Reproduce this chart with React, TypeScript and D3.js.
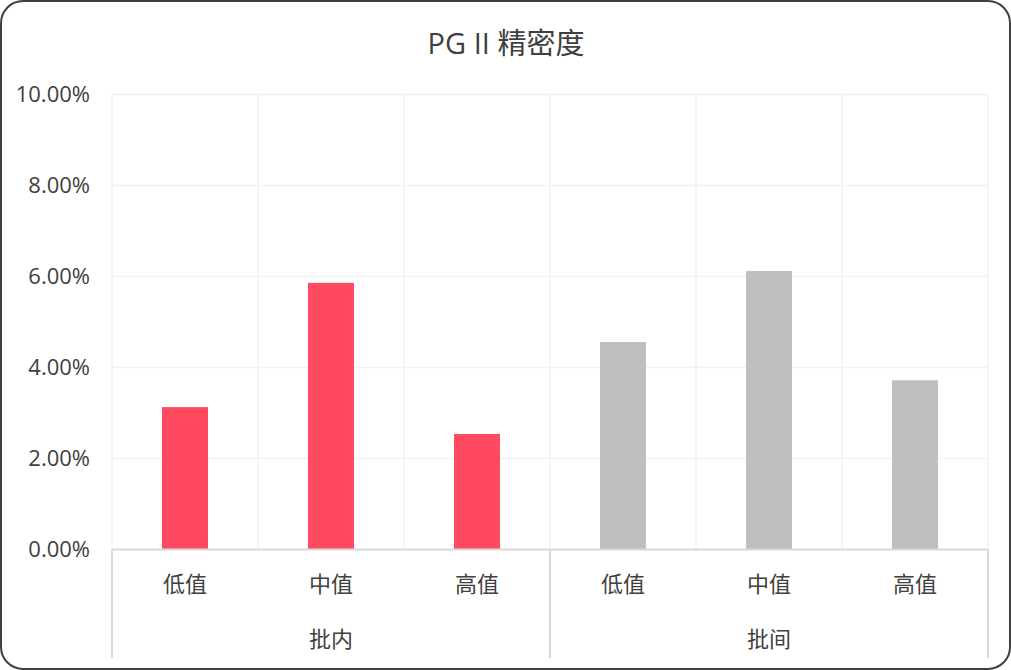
import React from "react";
import * as d3 from "d3";

const groups = ["批内", "批间"];
const levels = ["低值", "中值", "高值"];
const innerValues = [0.0313, 0.0586, 0.0254];
const betweenValues = [0.0456, 0.0612, 0.0372];
const groupColors = ["#FF4A5F", "#BFBFBF"];
const yTicks = [0, 0.02, 0.04, 0.06, 0.08, 0.1];
const title = "PG II 精密度";

const W = 1011;
const H = 670;
const left = 112;
const right = 988;
const top = 94.5;
const bottom = 549.5;

export default function App() {
  const rows = groups.flatMap((g, gi) =>
    levels.map((l, li) => ({
      key: `${g}-${l}`,
      group: g,
      gi,
      level: l,
      value: gi === 0 ? innerValues[li] : betweenValues[li],
    }))
  );
  const x = d3.scaleBand<string>().domain(rows.map((r) => r.key)).range([left, right]).paddingInner(0).paddingOuter(0);
  const y = d3.scaleLinear().domain([0, 0.1]).range([bottom, top]);
  const bw = x.bandwidth();
  const barW = bw * 0.315;
  const fmt = d3.format(".2%");
  const groupBand = d3.scaleBand<string>().domain(groups).range([left, right]);
  const font = "'Open Sans', 'Noto Sans CJK SC', sans-serif";
  const cjk = "'Noto Sans CJK SC', sans-serif";

  return (
    <svg width={W} height={H} style={{ position: "absolute", left: 0, top: 0 }}>
      <rect x={1} y={1} width={W - 2} height={H - 2} rx={22} ry={22} fill="#fff" stroke="#404040" strokeWidth={2} />
      <text x={506} y={44} dy="0.35em" textAnchor="middle" fontFamily={font} fontSize={29} fill="#404040">
        {title}
      </text>
      {/* horizontal gridlines */}
      {yTicks.map((t) => (
        <line key={"h" + t} x1={left} x2={right} y1={y(t)} y2={y(t)} stroke="#F2F2F2" strokeWidth={1.5} />
      ))}
      {/* vertical gridlines */}
      {rows.map((r) => (
        <line key={"v" + r.key} x1={x(r.key)!} x2={x(r.key)!} y1={top} y2={bottom} stroke="#F2F2F2" strokeWidth={1.5} />
      ))}
      <line x1={right} x2={right} y1={top} y2={bottom} stroke="#F2F2F2" strokeWidth={1.5} />
      {/* bars */}
      {rows.map((r) => (
        <rect
          key={"b" + r.key}
          x={x(r.key)! + (bw - barW) / 2}
          y={y(r.value)}
          width={barW}
          height={y(0) - y(r.value)}
          fill={groupColors[r.gi]}
        />
      ))}
      {/* y labels */}
      {yTicks.map((t) => (
        <text key={"yl" + t} x={90} y={y(t)} dy="0.35em" textAnchor="end" fontFamily={font} fontSize={22} fill="#404040">
          {fmt(t)}
        </text>
      ))}
      {/* x axis */}
      <line x1={left} x2={right} y1={bottom} y2={bottom} stroke="#D9D9D9" strokeWidth={2} />
      {groups.map((g) => (
        <line key={"gt" + g} x1={groupBand(g)!} x2={groupBand(g)!} y1={bottom} y2={658} stroke="#D9D9D9" strokeWidth={2} />
      ))}
      <line x1={right} x2={right} y1={bottom} y2={658} stroke="#D9D9D9" strokeWidth={2} />
      {rows.map((r) => (
        <text key={"xl" + r.key} x={x(r.key)! + bw / 2} y={584} dy="0.35em" textAnchor="middle" fontFamily={cjk} fontSize={22} fill="#404040">
          {r.level}
        </text>
      ))}
      {groups.map((g) => (
        <text key={"gl" + g} x={groupBand(g)! + groupBand.bandwidth() / 2} y={639} dy="0.35em" textAnchor="middle" fontFamily={cjk} fontSize={22} fill="#404040">
          {g}
        </text>
      ))}
    </svg>
  );
}
